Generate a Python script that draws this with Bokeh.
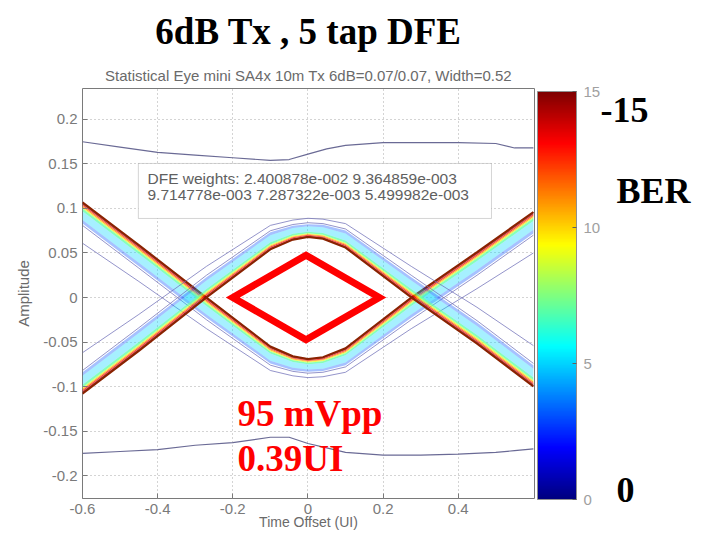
import numpy as np
from bokeh.plotting import figure
from bokeh.models import (ColorBar, LinearColorMapper, FixedTicker, Label, Range1d,
                          BoxAnnotation, Title, LinearAxis)
from bokeh.embed import file_html
from bokeh.resources import INLINE

# ---------------- data ----------------
x_ticks = [-0.6, -0.4, -0.2, 0.0, 0.2, 0.4]
x_tick_labels = ["-0.6", "-0.4", "-0.2", "0", "0.2", "0.4"]
y_ticks = [-0.2, -0.15, -0.1, -0.05, 0.0, 0.05, 0.1, 0.15, 0.2]
y_tick_labels = ["-0.2", "-0.15", "-0.1", "-0.05", "0", "0.05", "0.1", "0.15", "0.2"]
cbar_ticks = [0, 5, 10, 15]

# eye traces: inner (BER 1e-15) boundary of each transition
time_nodes = [-0.6, -0.45, -0.27, -0.1, -0.04, 0.0, 0.04, 0.1, 0.275, 0.45, 0.6]
trace_a_inner = [0.107, 0.059, 0.0, -0.055, -0.066, -0.069, -0.067, -0.057, 0.0, 0.051, 0.096]
trace_b_inner = [-0.108, -0.060, 0.0, 0.054, 0.065, 0.068, 0.066, 0.056, 0.0, -0.052, -0.100]
band_spread = [1.0, 1.0, 0.95, 0.8, 0.65, 0.6, 0.65, 0.8, 0.95, 1.0, 1.0]

# BER contour bands (level, offset from inner boundary at full spread)
ber_levels = [15, 13, 11, 9, 7, 5, 3]
level_offsets = [0.0, 0.0025, 0.004, 0.0055, 0.007, 0.010, 0.020, 0.024]
outer_contour_1 = [0.026, 0.026, 0.025, 0.021, 0.017, 0.016, 0.017, 0.021, 0.025, 0.026, 0.026]
outer_contour_2 = [0.046, 0.041, 0.035, 0.027, 0.022, 0.021, 0.022, 0.027, 0.035, 0.041, 0.046]

# outer envelope
env_x = [-0.6, -0.5, -0.4, -0.3, -0.2, -0.1, -0.05, 0.0, 0.05, 0.1, 0.2, 0.3, 0.4, 0.5, 0.55, 0.6]
env_top = [0.175, 0.169, 0.163, 0.160, 0.157, 0.154, 0.155, 0.161, 0.167, 0.171, 0.174, 0.174, 0.174, 0.173, 0.168, 0.168]
env_bot = [-0.175, -0.173, -0.171, -0.166, -0.163, -0.157, -0.157, -0.164, -0.169, -0.174, -0.177, -0.177, -0.176, -0.174, -0.172, -0.170]

# eye opening (red diamond)
eye_left = -0.2
eye_right = 0.19
eye_center = -0.005
eye_height = 0.095

# side notes next to the colour bar
note_top_text = ["-15"]
note_top_level = [0.2101]
note_texts = ["BER", "0"]
note_levels = [0.1202, -0.2163]

# ---------------- colours ----------------
def jet(t):
    c = lambda v: min(max(v, 0.0), 1.0)
    r = c(1.5 - abs(4 * t - 3)); g = c(1.5 - abs(4 * t - 2)); b = c(1.5 - abs(4 * t - 1))
    return "#%02x%02x%02x" % (int(r * 255), int(g * 255), int(b * 255))

jet_palette = [jet(i / 255) for i in range(256)]
mapper = LinearColorMapper(palette=jet_palette, low=0, high=15)

SANS = "Liberation Sans"
SERIF = "Liberation Serif"

# ---------------- figure ----------------
p = figure(width=693, height=532, x_range=Range1d(-0.6, 0.603), y_range=Range1d(-0.2258, 0.2348),
           output_backend="svg", toolbar_location=None, title=None,
           min_border_left=82, min_border_right=158, min_border_top=88, min_border_bottom=34)
p.background_fill_color = "white"
p.border_fill_color = "white"
p.outline_line_color = "#7a7a7a"
p.outline_line_width = 1

p.add_layout(Title(text="Statistical Eye mini SA4x 10m Tx 6dB=0.07/0.07, Width=0.52",
                   align="center", text_font=SANS, text_font_size="15px",
                   text_font_style="normal", text_color="#6a6a6a", standoff=10), "above")
p.add_layout(Title(text="6dB Tx , 5 tap DFE", align="center", offset=3,
                   text_font=SERIF, text_font_size="37px", text_font_style="bold",
                   text_color="#000000", standoff=16), "above")

for ax, ticks, labs in ((p.xaxis[0], x_ticks, x_tick_labels), (p.yaxis[0], y_ticks, y_tick_labels)):
    ax.ticker = FixedTicker(ticks=ticks)
    ax.major_label_overrides = {float(t): l for t, l in zip(ticks, labs)}
    ax.axis_line_color = None
    ax.major_tick_in = 5
    ax.major_tick_out = 0
    ax.major_tick_line_color = "#7a7a7a"
    ax.minor_tick_line_color = None
    ax.major_label_text_font = SANS
    ax.major_label_text_font_size = "15px"
    ax.major_label_text_color = "#7a7a7a"
    ax.axis_label_text_font = SANS
    ax.axis_label_text_font_style = "normal"
    ax.axis_label_text_color = "#6a6a6a"
p.xaxis.major_label_standoff = 5
p.yaxis.major_label_standoff = 5
p.xaxis.axis_label = "Time Offset (UI)"
p.xaxis.axis_label_text_font_size = "14px"
p.xaxis.axis_label_standoff = -3
p.yaxis.axis_label = "Amplitude"
p.yaxis.axis_label_text_font_size = "15px"
p.yaxis.axis_label_standoff = 8

p.grid.grid_line_color = "#a8a8a8"
p.grid.grid_line_dash = "1 3"
p.grid.grid_line_width = 1

# DFE weights box
p.add_layout(BoxAnnotation(left=-0.4513, right=0.4885, top=0.1506, bottom=0.0888,
                           fill_color="white", fill_alpha=1.0, line_color="#707070",
                           line_width=1, level="underlay"))

# colour bands of the eye
spread = np.array(band_spread)
ta = np.array(trace_a_inner); tb = np.array(trace_b_inner)
for inner, sgn in ((ta, -1.0), (tb, 1.0)):
    for i, lev in enumerate(ber_levels):
        y1 = inner + sgn * level_offsets[i] * spread
        y2 = inner + sgn * level_offsets[i + 1] * spread
        a = 0.75 if lev >= 7 else 0.35
        p.varea(x=time_nodes, y1=y1, y2=y2, fill_color=jet(lev / 15), fill_alpha=a)
    p.line(time_nodes, inner + sgn * np.array(outer_contour_1), line_color="#7070b8", line_width=1, line_alpha=0.75)
    p.line(time_nodes, inner + sgn * np.array(outer_contour_2), line_color="#7070b8", line_width=1, line_alpha=0.75)
    p.line(time_nodes, inner, line_color="#8a2200", line_width=2)

# envelope
p.line(env_x, env_top, line_color="#6a6a95", line_width=1.2)
p.line(env_x, env_bot, line_color="#6a6a95", line_width=1.2)

# eye opening diamond
dx = [eye_left, eye_center, eye_right, eye_center]
dy = [0.0, eye_height / 2, 0.0, -eye_height / 2]
p.patch(dx, dy, fill_color=None, line_color="#ff0000", line_width=7, line_join="miter")

# colour bar
cb = ColorBar(color_mapper=mapper, ticker=FixedTicker(ticks=cbar_ticks), width=39, height=408,
              location="top_left", padding=3, margin=6, label_standoff=7,
              major_label_text_font=SANS, major_label_text_font_size="15px",
              major_label_text_color="#a0a0a0", major_tick_line_color="#606060",
              major_tick_in=4, minor_tick_line_color=None,
              bar_line_color="#909090", border_line_color=None, background_fill_color=None)
p.add_layout(cb, "right")

# big notes right of the colour bar (as labels of unlined axes)
def note_axis(levels, texts, standoff):
    ax = LinearAxis(ticker=FixedTicker(ticks=levels),
                    major_label_overrides={float(v): t for v, t in zip(levels, texts)},
                    axis_line_color=None, major_tick_line_color=None, minor_tick_line_color=None,
                    major_tick_in=0, major_tick_out=0,
                    major_label_text_font=SERIF, major_label_text_font_size="36px",
                    major_label_text_font_style="bold", major_label_text_color="#000000",
                    major_label_standoff=standoff)
    p.add_layout(ax, "right")

note_axis(note_top_level, note_top_text, -6)
note_axis(note_levels, note_texts, -35)

def lab(text, x, y, size, font=SANS, color="#000000", bold=False):
    p.add_layout(Label(x=x, y=y, x_units="screen", y_units="screen", text=text,
                       text_font=font, text_font_size=size, text_color=color,
                       text_font_style="bold" if bold else "normal"))

lab("DFE weights: 2.400878e-002 9.364859e-003", 65, 312, "15.5px", color="#606060")
lab("9.714778e-003 7.287322e-003 5.499982e-003", 65, 296, "15.5px", color="#606060")
lab("95 mVpp", 155, 65, "37px", SERIF, color="#ff0000", bold=True)
lab("0.39UI", 155, 20, "37px", SERIF, color="#ff0000", bold=True)

open("out.html", "w").write(file_html(p, INLINE))
